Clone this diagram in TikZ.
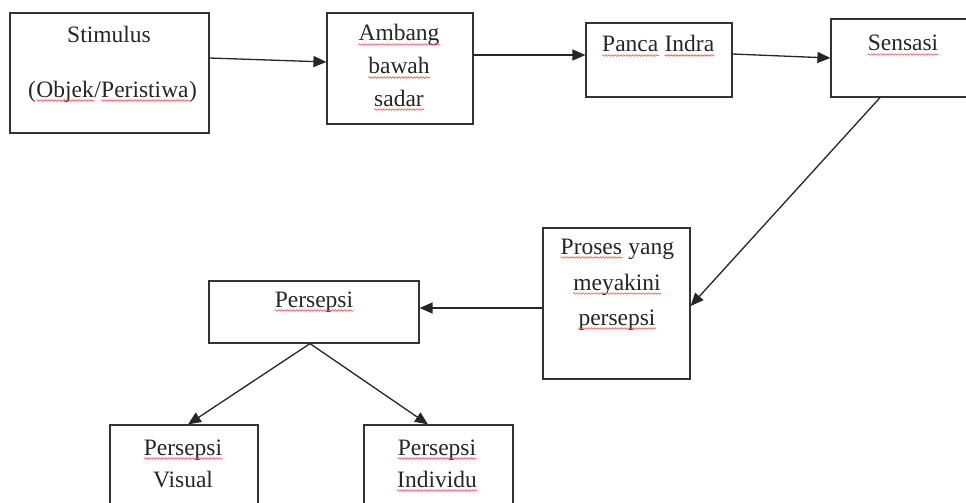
\documentclass[tikz,border=0pt]{standalone}
\usepackage{fontspec}
\setmainfont{Liberation Serif}
\usetikzlibrary{arrows.meta,decorations.pathmorphing}
\tikzset{
  box/.style={draw=black!80, line width=1.2pt, rectangle, inner sep=0pt},
  lbl/.style={anchor=base, inner sep=0pt, text=black!85, font=\fontsize{23.5}{28}\selectfont},
  arr/.style={line width=1.3pt, draw=black!85, -{Triangle[length=13pt,width=11pt]}},
  wave/.style={draw=red!70, line width=0.6pt, decorate, decoration={snake, segment length=3pt, amplitude=0.8pt}}
}
\begin{document}
\begin{tikzpicture}[x=1pt,y=-1pt]
\useasboundingbox[fill=white] (0,0) rectangle (966,503);
\clip (0,0) rectangle (966,503);
% boxes
\node[box, minimum width=199pt, minimum height=120pt] (stim) at (109.5,73) {};
\node[box, minimum width=146pt, minimum height=111pt] (amb) at (400,68.5) {};
\node[box, minimum width=146pt, minimum height=74pt] (panca) at (659,60) {};
\node[box, minimum width=145pt, minimum height=78pt] (sens) at (903.5,58) {};
\node[box, minimum width=147pt, minimum height=151pt] (proses) at (616.5,303.5) {};
\node[box, minimum width=210pt, minimum height=62pt] (pers) at (314,312) {};
\node[box, minimum width=148pt, minimum height=100pt] (vis) at (184,475) {};
\node[box, minimum width=149pt, minimum height=100pt] (ind) at (438.5,475) {};
% texts
\node[lbl] (t1) at (109,43) {Stimulus};
\node[lbl, anchor=base west] (t2a) at (28,97) {(};
\node[lbl, anchor=base west] (t2b) at (t2a.base east) {Objek};
\node[lbl, anchor=base west] (t2c) at (t2b.base east) {/};
\node[lbl, anchor=base west] (t2d) at (t2c.base east) {Peristiwa};
\node[lbl, anchor=base west] (t2e) at (t2d.base east) {)};
\node[lbl] (t3) at (399,41) {Ambang};
\node[lbl] (t4) at (399,74) {bawah};
\node[lbl] (t5) at (399,106) {sadar};
\node[lbl, anchor=base west] (t6a) at (602,52) {Panca};
\node[lbl, anchor=base west] (t6b) at ([xshift=5.9pt]t6a.base east) {Indra};
\node[lbl] (t7) at (903,51) {Sensasi};
\node[lbl, anchor=base west] (t8a) at (560.5,254) {Proses};
\node[lbl, anchor=base west] (t8b) at ([xshift=5.9pt]t8a.base east) {yang};
\node[lbl] (t9) at (617,290) {meyakini};
\node[lbl] (t10) at (617,325) {persepsi};
\node[lbl] (t11) at (314,307) {Persepsi};
\node[lbl] (t12) at (183,455) {Persepsi};
\node[lbl] (t13) at (183,487) {Visual};
\node[lbl] (t14) at (437,455) {Persepsi};
\node[lbl] (t15) at (437,487) {Individu};
% spell-check wavy underlines
\foreach \w in {t2b,t2d,t3,t4,t5,t6a,t6b,t7,t8a,t9,t10,t11,t12,t14,t15}
  \draw[wave] ([yshift=-3.5pt]\w.base west) -- ([yshift=-3.5pt]\w.base east);
% connectors
\draw[arr] (stim.east |- 0,58) -- (amb.west |- 0,62);
\draw[arr] (amb.east |- 0,55) -- (panca.west |- 0,55);
\draw[arr] (panca.east |- 0,54) -- (sens.west |- 0,58);
\draw[arr] (sens.south -| 880,0) -- (proses.east |- 0,306);
\draw[arr] (proses.west |- 0,308) -- (pers.east |- 0,308);
\draw[arr] (pers.south -| 310,0) -- (vis.north -| 188,0);
\draw[arr] (pers.south -| 310,0) -- (ind.north -| 428,0);
\end{tikzpicture}
\end{document}
